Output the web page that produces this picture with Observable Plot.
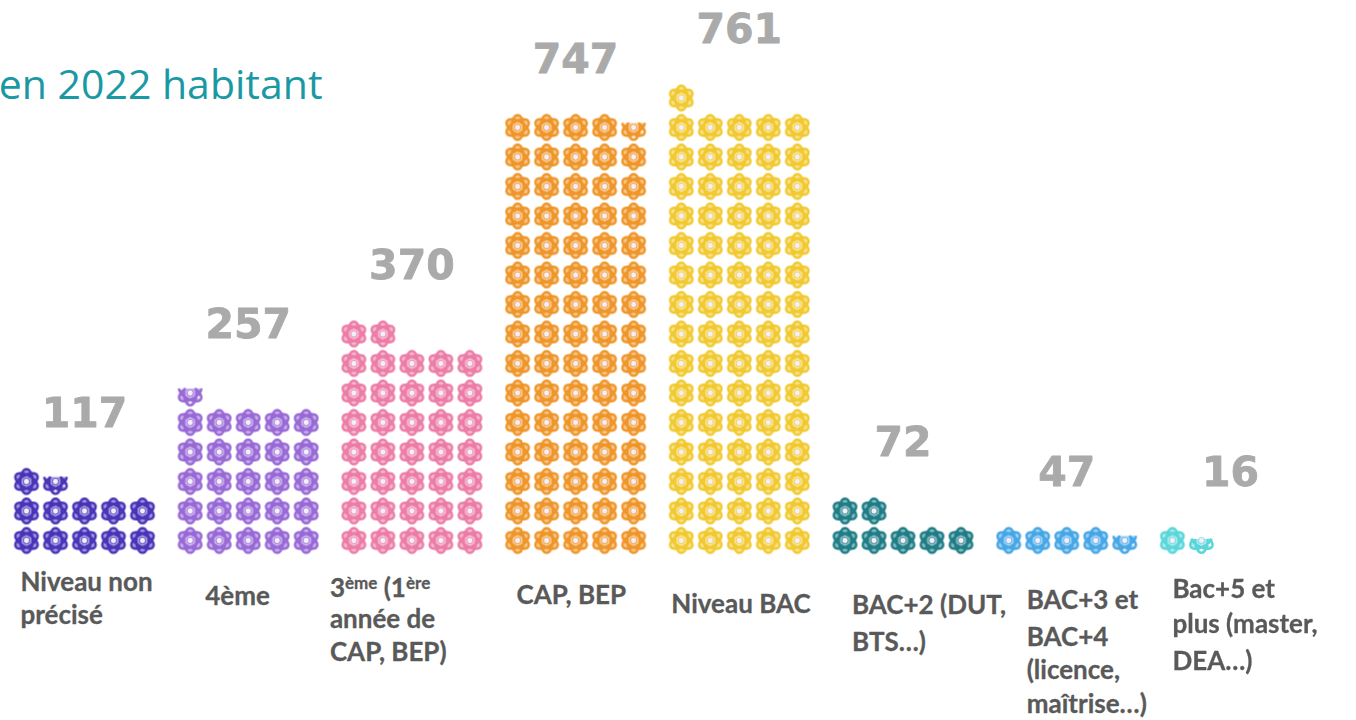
<!DOCTYPE html>
<html lang="fr">
<head>
<meta charset="utf-8">
<script src="https://cdn.jsdelivr.net/npm/d3@7"></script>
<script src="https://cdn.jsdelivr.net/npm/@observablehq/plot@0.6"></script>
<style>
  html, body { margin: 0; background: #fff; }
  svg { display: block; }
  g[aria-label="dot"] { filter: blur(0.5px); }
</style>
</head>
<body>
<div id="chart"></div>
<script>
// Data
const categories = ["Niveau non précisé", "4ème", "3ème (1ère année de CAP, BEP)", "CAP, BEP", "Niveau BAC", "BAC+2 (DUT, BTS…)", "BAC+3 et BAC+4 (licence, maîtrise…)", "Bac+5 et plus (master, DEA…)"];
const values = [117, 257, 370, 747, 761, 72, 47, 16];
const colors = ["#4733b8", "#9768d6", "#ec7ba6", "#ef9528", "#f1c92f", "#1d7c85", "#45a6e6", "#5ad6da"];
const labelLines = [
  ["Niveau non", "précisé"],
  ["4ème"],
  ["3ème (1ère", "année de", "CAP, BEP)"],
  ["CAP, BEP"],
  ["Niveau BAC"],
  ["BAC+2 (DUT,", "BTS…)"],
  ["BAC+3 et", "BAC+4", "(licence,", "maîtrise…)"],
  ["Bac+5 et", "plus (master,", "DEA…)"]
];
const title = "en 2022 habitant";
const perIcon = 10;
const perRow = 5;

// Layout (pixel offsets of each label block, relative to its group's first icon)
const labelDx = [-6, 15, -24, -1, -10, 7, 18, 0];
const labelDy = [[42, 75], [56], [48, 79, 112], [55], [64], [65, 102], [60, 97, 130, 164], [49, 84, 121]];
const groupStep = 5.645;

// One table row per icon
const icons = values.flatMap((v, g) => {
  const full = Math.floor(v / perIcon);
  const rem = (v % perIcon) / perIcon;
  const n = full + (rem >= 0.5 ? 1 : 0);
  return d3.range(n).map(i => ({
    category: categories[g],
    col: g * groupStep + i % perRow,
    row: Math.floor(i / perRow),
    part: i === full ? rem : 1
  }));
});
const tops = values.map((v, g) => ({
  value: v,
  category: categories[g],
  x: g * groupStep + 2,
  row: Math.floor((Math.floor(v / perIcon) + (v % perIcon >= 5 ? 1 : 0) - 1) / perRow)
}));

// Atom-shaped flower: three crossed ellipses, cut from the top for partial icons
function flower(part) {
  return {
    draw(ctx, size) {
      const R = Math.sqrt(size / Math.PI);
      const ry = R * 0.5;
      const cut = -R + (1 - part) * 2 * R;
      for (const a of [Math.PI / 2, Math.PI / 6, -Math.PI / 6]) {
        let pen = false;
        for (let k = 0; k <= 48; ++k) {
          const t = k / 48 * 2 * Math.PI;
          const ex = R * Math.cos(t), ey = ry * Math.sin(t);
          const px = ex * Math.cos(a) - ey * Math.sin(a);
          const py = ex * Math.sin(a) + ey * Math.cos(a);
          if (py < cut) { pen = false; continue; }
          if (pen) ctx.lineTo(px, py); else ctx.moveTo(px, py);
          pen = true;
        }
      }
    }
  };
}
const parts = [...new Set(icons.map(d => d.part))];

const labelMarks = labelLines.flatMap((lines, g) => lines.map((line, j) =>
  Plot.text([line], {
    x: () => g * groupStep,
    y: () => 0,
    text: d => d,
    textAnchor: "start",
    dx: labelDx[g],
    dy: labelDy[g][j],
    fontFamily: "Lato, sans-serif",
    fontWeight: 700,
    fontSize: 26,
    fill: "#595959",
    stroke: "#595959",
    strokeWidth: 0.3
  })
));

const plot = Plot.plot({
  width: 1356,
  height: 720,
  margin: 0,
  style: { background: "#fff", overflow: "visible" },
  x: { type: "linear", domain: [0, 1], range: [26, 55], axis: null },
  y: { type: "linear", domain: [0, 1], range: [540, 510.5], axis: null },
  color: { domain: categories, range: colors },
  marks: [
    Plot.text([title], {
      frameAnchor: "top-left",
      text: d => d,
      dx: 322,
      dy: 69,
      textAnchor: "end",
      fontFamily: "Open Sans, sans-serif",
      fontSize: 41,
      fill: "#1a98a3"
    }),
    ...parts.map(p => Plot.dot(icons.filter(d => d.part === p), {
      x: "col", y: "row", r: 12.4,
      symbol: flower(p),
      stroke: "category",
      fill: "category",
      fillOpacity: 0.5,
      strokeWidth: 2.4
    })),
    Plot.dot(icons, {
      x: "col", y: "row", r: 3,
      fill: "#f4eefb",
      stroke: "category",
      strokeWidth: 1.2,
      strokeOpacity: 0.55
    }),
    Plot.text(tops, {
      x: "x", y: "row",
      text: d => String(d.value),
      dy: -68,
      fontFamily: "DejaVu Sans, sans-serif",
      fontWeight: 700,
      fontSize: 41,
      fill: "#aaaaaa",
      stroke: "#aaaaaa",
      strokeWidth: 0.8
    }),
    ...labelMarks
  ]
});
document.getElementById("chart").append(plot);

// Superscripts in the "3ème (1ère" label
d3.select(plot).selectAll("text").each(function () {
  if (this.textContent !== "3ème (1ère") return;
  const t = d3.select(this).text(null);
  [["3", 0], ["ème", 1], [" (1", 0], ["ère", 1]].forEach(([s, sup], i) => {
    const span = t.append("tspan").text(s);
    if (sup) span.attr("font-size", 17).attr("dy", -8);
    else if (i > 0) span.attr("dy", 8);
  });
});
</script>
</body>
</html>
